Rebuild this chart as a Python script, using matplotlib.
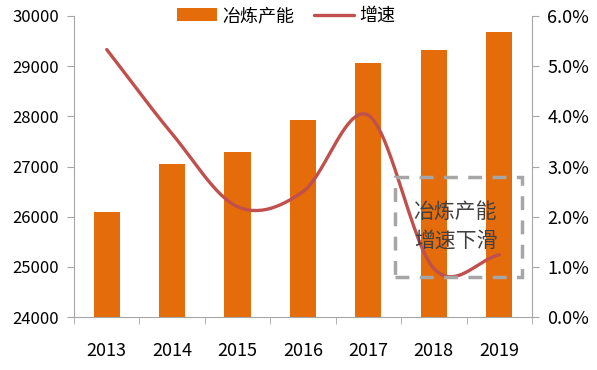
import numpy as np
import matplotlib.pyplot as plt
from matplotlib.patches import Rectangle
from matplotlib.ticker import FuncFormatter

plt.rcParams['font.family'] = ['Noto Sans CJK SC', 'DejaVu Sans']

years = ['2013', '2014', '2015', '2016', '2017', '2018', '2019']
capacity = [26100, 27040, 27280, 27920, 29060, 29320, 29680]
growth = [5.33, 3.65, 2.2, 2.5, 4.02, 0.97, 1.24]

bar_color = '#E46C0A'
line_color = '#C0504D'
axis_color = '#A6A6A6'


def smooth(xs, ys, n=30):
    # Catmull-Rom curve through the points, like Excel's smoothed line
    xs = np.asarray(xs, float)
    ys = np.asarray(ys, float)
    px = np.concatenate([[2 * xs[0] - xs[1]], xs, [2 * xs[-1] - xs[-2]]])
    py = np.concatenate([[2 * ys[0] - ys[1]], ys, [2 * ys[-1] - ys[-2]]])
    out_x, out_y = [], []
    t = np.linspace(0, 1, n)
    for i in range(1, len(px) - 2):
        for p, out in ((px, out_x), (py, out_y)):
            p0, p1, p2, p3 = p[i - 1], p[i], p[i + 1], p[i + 2]
            out.extend(0.5 * (2 * p1 + (-p0 + p2) * t
                              + (2 * p0 - 5 * p1 + 4 * p2 - p3) * t ** 2
                              + (-p0 + 3 * p1 - 3 * p2 + p3) * t ** 3))
    return out_x, out_y


fig = plt.figure(figsize=(5.97, 3.7), dpi=100)
ax = fig.add_axes([0.124, 0.143, 0.767, 0.814])
x = np.arange(len(years))
bars = ax.bar(x, np.array(capacity) - 24000, bottom=24000, width=0.4,
              color=bar_color, label='冶炼产能', zorder=2)
ax.set_ylim(24000, 30000)
ax.set_yticks(range(24000, 30001, 1000))
ax.set_xlim(-0.5, 6.5)
ax.set_xticks(x)
ax.set_xticklabels(years)
ax.set_xticks(np.arange(-0.5, 7, 1), minor=True)
ax.tick_params(axis='x', which='major', length=0, pad=18, labelsize=13)
ax.tick_params(axis='x', which='minor', length=5, color=axis_color, direction='out')
ax.tick_params(axis='y', length=5, color=axis_color, labelsize=12, pad=6)

ax2 = ax.twinx()
sx, sy = smooth(x, growth)
line, = ax2.plot(sx, sy, color=line_color, lw=2.4, label='增速', solid_capstyle='round', zorder=3)
ax2.set_ylim(0, 6)
ax2.set_yticks(np.arange(0, 6.01, 1))
ax2.yaxis.set_major_formatter(FuncFormatter(lambda v, p: f'{v:.1f}%'))
ax2.tick_params(axis='y', length=5, color=axis_color, labelsize=13, pad=6)

for a in (ax, ax2):
    a.spines['top'].set_visible(False)
    for s in ('left', 'right', 'bottom'):
        a.spines[s].set_color(axis_color)
ax2.spines['left'].set_visible(False)
ax2.spines['bottom'].set_visible(False)
ax.spines['right'].set_visible(False)

# dashed call-out box
ax2.add_patch(Rectangle((4.41, 0.80), 1.94, 1.99, fill=False, ls=(0, (4, 3)),
                        lw=2.5, edgecolor='#A6A6A6', zorder=4, clip_on=False))
ax2.text(5.33, 1.8, '冶炼产能\n增速下滑', ha='center', va='center', fontsize=15,
         color='#404040', linespacing=1.4, zorder=5)

fig.legend(handles=[bars, line], loc='upper center', bbox_to_anchor=(0.48, 1.025),
           ncol=2, frameon=False, fontsize=13, handlelength=2.2, columnspacing=1.1,
           handletextpad=0.3)

fig.savefig('out.png', dpi=100)
